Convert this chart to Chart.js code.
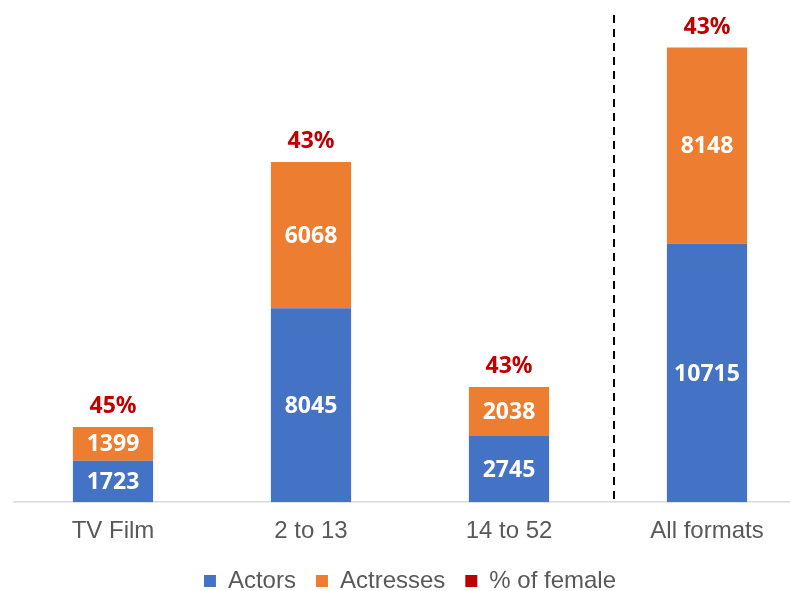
<!DOCTYPE html>
<html>
<head>
<meta charset="utf-8">
<script src="https://cdn.jsdelivr.net/npm/chart.js@4/dist/chart.umd.min.js"></script>
<style>
  html, body { margin: 0; padding: 0; background: #fff; overflow: hidden; }
</style>
</head>
<body>
<canvas id="chart-canvas" width="806" height="603"></canvas>
<script>
const categories = ['TV Film', '2 to 13', '14 to 52', 'All formats'];
const actors = [1723, 8045, 2745, 10715];
const actresses = [1399, 6068, 2038, 8148];
const femalePct = [45, 43, 43, 43];

// white numbers inside bars, red % above each stack, dashed separator
const labelsPlugin = {
    id: 'labels',
    afterDatasetsDraw(chart) {
        const c = chart.ctx;
        c.save();
        c.textAlign = 'center';
        c.textBaseline = 'middle';
        c.font = 'bold 23px "Noto Sans"';
        c.fillStyle = '#ffffff';
        [0, 1].forEach(function(di) {
            const meta = chart.getDatasetMeta(di);
            meta.data.forEach(function(bar, i) {
                const v = chart.data.datasets[di].data[i];
                c.fillText(String(v), bar.x, (bar.y + bar.base) / 2 + 1);
            });
        });
        const top = chart.getDatasetMeta(1);
        c.fillStyle = '#C00000';
        top.data.forEach(function(bar, i) {
            c.fillText(femalePct[i] + '%', bar.x, bar.y - 20);
        });
        const xs = chart.scales.x;
        const sx = Math.round((xs.getPixelForTick(2) + xs.getPixelForTick(3)) / 2) + 6;
        c.strokeStyle = '#000000';
        c.lineWidth = 2;
        c.setLineDash([8, 6]);
        c.beginPath();
        c.moveTo(sx, 15);
        c.lineTo(sx, chart.chartArea.bottom);
        c.stroke();
        c.restore();
    }
};

new Chart(document.getElementById('chart-canvas').getContext('2d'), {
    type: 'bar',
    data: {
        labels: categories,
        datasets: [
            { label: 'Actors', data: actors, backgroundColor: '#4472C4' },
            { label: 'Actresses', data: actresses, backgroundColor: '#ED7D31' },
            { label: '% of female', data: [], backgroundColor: '#C00000' }
        ]
    },
    options: {
        responsive: false,
        animation: false,
        categoryPercentage: 0.405,
        barPercentage: 1,
        layout: { padding: { left: 14, right: 0, top: 20, bottom: 0 } },
        plugins: {
            tooltip: { enabled: false },
            legend: {
                position: 'bottom',
                labels: {
                    boxWidth: 12,
                    boxHeight: 12,
                    padding: 20,
                    color: '#595959',
                    font: { family: '"Liberation Sans", Arial', size: 24 }
                }
            }
        },
        scales: {
            x: {
                stacked: true,
                grid: { display: false },
                border: { color: '#D9D9D9', width: 1.5 },
                ticks: {
                    color: '#595959',
                    padding: 7,
                    font: { family: '"Liberation Sans", Arial', size: 24 }
                },
                // pull the legend closer to the tick labels
                afterFit: function(scale) { scale.height -= 4; }
            },
            y: {
                stacked: true,
                display: false,
                min: 0,
                max: 20000
            }
        }
    },
    plugins: [labelsPlugin]
});
</script>
</body>
</html>
